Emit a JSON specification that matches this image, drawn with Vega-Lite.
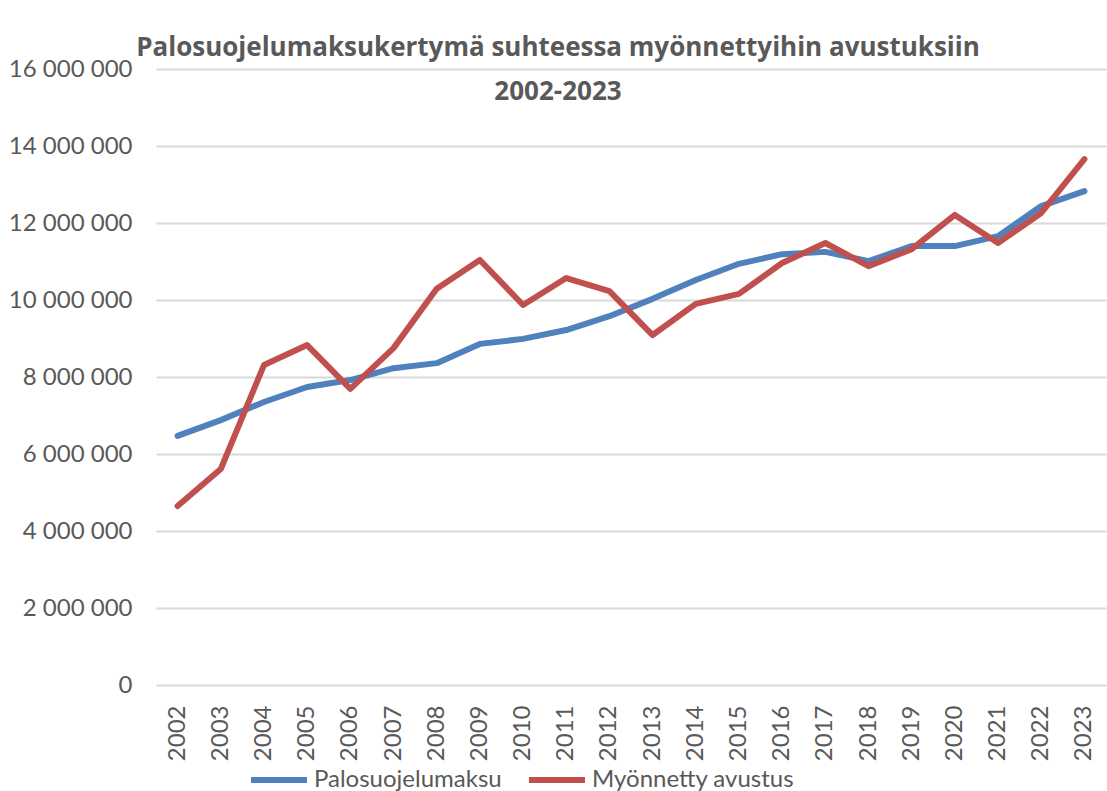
{
  "$schema": "https://vega.github.io/schema/vega-lite/v6.json",
  "autosize": "none",
  "width": 950,
  "height": 616,
  "padding": {"left": 156, "top": 69, "right": 1, "bottom": 106},
  "background": "white",
  "config": {
    "locale": {"number": {"decimal": ",", "thousands": " ", "grouping": [3], "currency": ["", " €"]}},
    "font": "Lato",
    "view": {"stroke": null}
  },
  "title": {
    "text": ["Palosuojelumaksukertymä suhteessa myönnettyihin avustuksiin", "2002-2023"],
    "font": "Open Sans",
    "fontSize": 26,
    "fontWeight": "bold",
    "color": "#595959",
    "lineHeight": 44,
    "anchor": "middle",
    "frame": "group",
    "dx": -73,
    "dy": 52
  },
  "data": {
    "values": [
      {"Vuosi": "2002", "Sarja": "Palosuojelumaksu", "Arvo": 6470000},
      {"Vuosi": "2003", "Sarja": "Palosuojelumaksu", "Arvo": 6880000},
      {"Vuosi": "2004", "Sarja": "Palosuojelumaksu", "Arvo": 7350000},
      {"Vuosi": "2005", "Sarja": "Palosuojelumaksu", "Arvo": 7740000},
      {"Vuosi": "2006", "Sarja": "Palosuojelumaksu", "Arvo": 7920000},
      {"Vuosi": "2007", "Sarja": "Palosuojelumaksu", "Arvo": 8230000},
      {"Vuosi": "2008", "Sarja": "Palosuojelumaksu", "Arvo": 8360000},
      {"Vuosi": "2009", "Sarja": "Palosuojelumaksu", "Arvo": 8860000},
      {"Vuosi": "2010", "Sarja": "Palosuojelumaksu", "Arvo": 8990000},
      {"Vuosi": "2011", "Sarja": "Palosuojelumaksu", "Arvo": 9220000},
      {"Vuosi": "2012", "Sarja": "Palosuojelumaksu", "Arvo": 9580000},
      {"Vuosi": "2013", "Sarja": "Palosuojelumaksu", "Arvo": 10030000},
      {"Vuosi": "2014", "Sarja": "Palosuojelumaksu", "Arvo": 10520000},
      {"Vuosi": "2015", "Sarja": "Palosuojelumaksu", "Arvo": 10940000},
      {"Vuosi": "2016", "Sarja": "Palosuojelumaksu", "Arvo": 11190000},
      {"Vuosi": "2017", "Sarja": "Palosuojelumaksu", "Arvo": 11250000},
      {"Vuosi": "2018", "Sarja": "Palosuojelumaksu", "Arvo": 11010000},
      {"Vuosi": "2019", "Sarja": "Palosuojelumaksu", "Arvo": 11400000},
      {"Vuosi": "2020", "Sarja": "Palosuojelumaksu", "Arvo": 11400000},
      {"Vuosi": "2021", "Sarja": "Palosuojelumaksu", "Arvo": 11660000},
      {"Vuosi": "2022", "Sarja": "Palosuojelumaksu", "Arvo": 12440000},
      {"Vuosi": "2023", "Sarja": "Palosuojelumaksu", "Arvo": 12830000},
      {"Vuosi": "2002", "Sarja": "Myönnetty avustus", "Arvo": 4650000},
      {"Vuosi": "2003", "Sarja": "Myönnetty avustus", "Arvo": 5610000},
      {"Vuosi": "2004", "Sarja": "Myönnetty avustus", "Arvo": 8310000},
      {"Vuosi": "2005", "Sarja": "Myönnetty avustus", "Arvo": 8830000},
      {"Vuosi": "2006", "Sarja": "Myönnetty avustus", "Arvo": 7690000},
      {"Vuosi": "2007", "Sarja": "Myönnetty avustus", "Arvo": 8750000},
      {"Vuosi": "2008", "Sarja": "Myönnetty avustus", "Arvo": 10290000},
      {"Vuosi": "2009", "Sarja": "Myönnetty avustus", "Arvo": 11040000},
      {"Vuosi": "2010", "Sarja": "Myönnetty avustus", "Arvo": 9870000},
      {"Vuosi": "2011", "Sarja": "Myönnetty avustus", "Arvo": 10570000},
      {"Vuosi": "2012", "Sarja": "Myönnetty avustus", "Arvo": 10230000},
      {"Vuosi": "2013", "Sarja": "Myönnetty avustus", "Arvo": 9090000},
      {"Vuosi": "2014", "Sarja": "Myönnetty avustus", "Arvo": 9900000},
      {"Vuosi": "2015", "Sarja": "Myönnetty avustus", "Arvo": 10160000},
      {"Vuosi": "2016", "Sarja": "Myönnetty avustus", "Arvo": 10960000},
      {"Vuosi": "2017", "Sarja": "Myönnetty avustus", "Arvo": 11480000},
      {"Vuosi": "2018", "Sarja": "Myönnetty avustus", "Arvo": 10880000},
      {"Vuosi": "2019", "Sarja": "Myönnetty avustus", "Arvo": 11320000},
      {"Vuosi": "2020", "Sarja": "Myönnetty avustus", "Arvo": 12210000},
      {"Vuosi": "2021", "Sarja": "Myönnetty avustus", "Arvo": 11480000},
      {"Vuosi": "2022", "Sarja": "Myönnetty avustus", "Arvo": 12260000},
      {"Vuosi": "2023", "Sarja": "Myönnetty avustus", "Arvo": 13660000}
    ]
  },
  "mark": {"type": "line", "strokeWidth": 6, "strokeCap": "round", "strokeJoin": "round"},
  "encoding": {
    "x": {
      "field": "Vuosi",
      "type": "ordinal",
      "scale": {"type": "band", "paddingInner": 0, "paddingOuter": 0},
      "axis": {
        "title": null,
        "labelAngle": -90,
        "labelAlign": "right",
        "labelBaseline": "middle",
        "labelFontSize": 24,
        "labelColor": "#595959",
        "labelPadding": 20,
        "ticks": false,
        "domain": false,
        "grid": false
      }
    },
    "y": {
      "field": "Arvo",
      "type": "quantitative",
      "scale": {"domain": [0, 16000000], "nice": false},
      "axis": {
        "title": null,
        "values": [0, 2000000, 4000000, 6000000, 8000000, 10000000, 12000000, 14000000, 16000000],
        "format": ",d",
        "labelFontSize": 24,
        "labelColor": "#595959",
        "labelPadding": 24,
        "ticks": false,
        "domain": false,
        "grid": true,
        "gridColor": "#d9d9d9",
        "gridWidth": 2
      }
    },
    "color": {
      "field": "Sarja",
      "type": "nominal",
      "sort": ["Palosuojelumaksu", "Myönnetty avustus"],
      "scale": {"domain": ["Palosuojelumaksu", "Myönnetty avustus"], "range": ["#4f81bd", "#c0504d"]},
      "legend": {
        "title": null,
        "orient": "none",
        "direction": "horizontal",
        "padding": 0,
        "legendX": 92,
        "legendY": 680,
        "symbolType": "stroke",
        "symbolSize": 3136,
        "symbolStrokeWidth": 6,
        "labelFontSize": 24,
        "labelLimit": 400,
        "labelColor": "#595959",
        "labelOffset": 4,
        "columnPadding": 15
      }
    }
  }
}
